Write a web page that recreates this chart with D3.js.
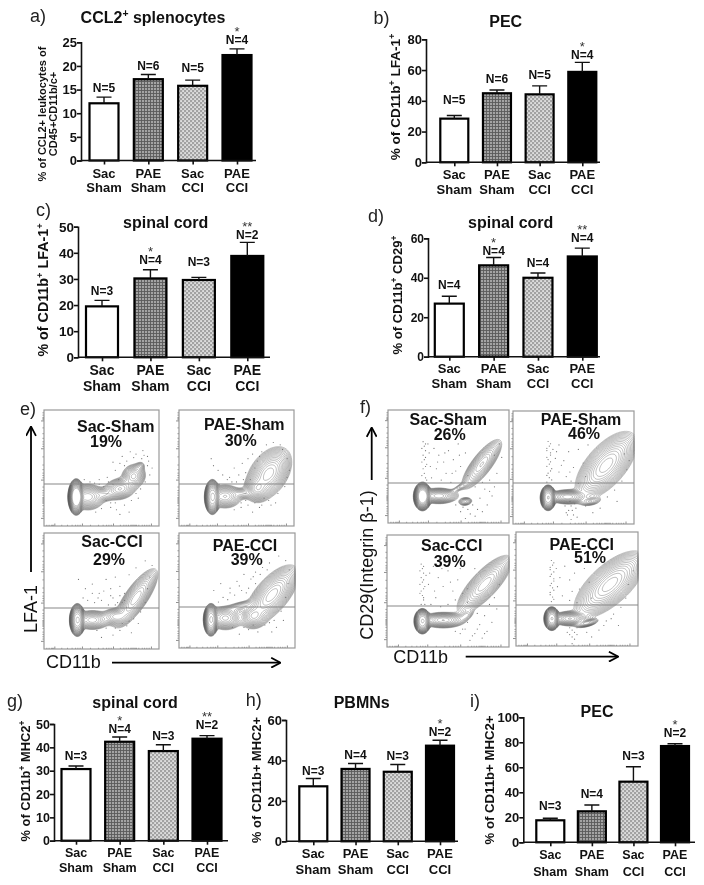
<!DOCTYPE html>
<html><head><meta charset="utf-8">
<script src="https://cdnjs.cloudflare.com/ajax/libs/d3/7.8.5/d3.min.js"></script>
<style>html,body{margin:0;padding:0;background:#fff}svg{display:block;filter:blur(.35px)}text{font-family:"Liberation Sans",Arial,sans-serif}</style>
</head><body><svg id="c" width="704" height="885"></svg>
<script>
// ---------- bar chart values ----------
const categoryTop = ["Sac","PAE","Sac","PAE"];
const categoryBottom = ["Sham","Sham","CCI","CCI"];
const aMeans=[12.1,17.2,15.8,22.3], aTops=[13.4,18.2,17.0,23.6], aN=[5,6,5,4], aStars=["","","","*"];
const bMeans=[28.4,44.9,44.2,58.8], bTops=[30.4,47.0,49.7,65.0], bN=[5,6,5,4], bStars=["","","","*"];
const cMeans=[19.5,30.2,29.6,38.8], cTops=[21.8,33.5,30.6,44.0], cN=[3,4,3,2], cStars=["","*","","**"];
const dMeans=[26.9,46.3,40.0,50.8], dTops=[30.6,50.3,42.4,55.0], dN=[4,4,4,4], dStars=["","*","","**"];
const gMeans=[30.7,42.4,38.4,43.7], gTops=[32.0,44.4,41.1,45.0], gN=[3,4,3,2], gStars=["","*","","**"];
const hMeans=[27.2,35.8,34.4,47.3], hTops=[31.1,38.5,38.0,50.0], hN=[3,4,3,2], hStars=["","","","*"];
const iMeans=[17.6,24.8,48.5,77.0], iTops=[19.2,29.9,60.5,78.9], iN=[3,4,3,2], iStars=["","","","*"];
const aTicks=[0,5,10,15,20,25], bTicks=[0,20,40,60,80], cTicks=[0,10,20,30,40,50], dTicks=[0,20,40,60], gTicks=[0,10,20,30,40,50], hTicks=[0,20,40,60], iTicks=[0,20,40,60,80,100];

// ---------- flow plot labels and shapes (percent of panel box) ----------
const flowNames=["Sac-Sham","PAE-Sham","Sac-CCI","PAE-CCI"];
const ePercents=["19%","30%","29%","39%"], fPercents=["26%","46%","39%","51%"];
// density lobes: centre x, centre y, spread along, spread across, angle, weight
const eBlobs=[
 [[28,75,3.6,8,0,1.5],[38,75,6.5,5,0,.35],[52,73,5,3,0,.1],[66,68,6.5,4.2,-12,.3],[78,57,5,4.6,-40,.26],[83,49,3,2.2,-40,.06]],
 [[29,75,3.6,8,0,.95],[40,74.5,6.5,4.6,0,.3],[55,72,5,2.4,0,.09],[68,68,4.6,4.6,-45,.3],[78,55,11,6.8,-55,.5]],
 [[29,75,3.6,7.5,0,.95],[42,75,7,3.8,0,.28],[62,72,5.4,3.5,0,.2],[80,56,13,4.2,-55,.42]],
 [[27.5,75.5,3.4,7.5,0,.95],[40,74,6.5,4.6,0,.32],[52,64,7,2.2,-15,.09],[64,72.6,5.4,4.6,0,.24],[80,54,13.5,6,-50,.5]]];
const fBlobs=[
 [[28.5,76.5,3.8,6.5,0,1.4],[42,76,7,3.1,0,.35],[64,81,3,1.9,-10,.12],[60,68,6,1.4,-30,.05],[77.5,48,12,3.8,-55,.3]],
 [[29,76.8,3.4,6,0,.95],[45,76,7,2.8,0,.35],[64,80,4.6,1.9,-10,.1],[77,48,15,7,-52,.5]],
 [[29,77,3.6,6,0,.95],[46,76,8,3.1,0,.36],[65,72,4,2.2,-40,.07],[80,44,14,4.8,-50,.42]],
 [[29.3,76,3.4,5.5,0,.95],[44,76,6.4,2.8,0,.36],[58,80,4.6,1.5,-15,.18],[77,46,16,7,-45,.5]]];
// stray single events
const eDots=[
 [[60,45],[68,40],[75,36],[85,42],[90,48],[92,56],[88,62],[70,48],[55,58],[48,60],[62,52],[72,44],[80,38],[86,35],[94,50],[58,84],[63,86],[70,82],[74,88],[66,90],[80,72],[84,68],[50,85],[45,88],[76,78],[40,62],[35,60],[90,40],[65,60],[52,66],[56,62],[60,64],[48,64],[44,63],[58,80],[54,78],[62,80],[82,76],[91,44],[87,39],[78,41],[66,46]],
 [[28,42],[30,48],[34,52],[38,56],[44,58],[48,50],[55,46],[60,42],[64,38],[68,44],[72,36],[76,30],[82,28],[90,34],[94,42],[96,52],[92,66],[86,72],[78,78],[70,84],[64,88],[60,82],[54,84],[48,86],[42,60],[52,56],[58,54],[66,50],[62,60],[74,76],[84,80],[35,64],[50,62],[56,60],[46,62],[54,80],[58,78],[66,80],[72,82],[80,82],[70,40],[88,30],[94,58]],
 [[30,40],[36,48],[42,44],[48,52],[54,40],[58,48],[62,38],[66,46],[70,52],[74,36],[80,30],[88,24],[94,28],[92,38],[90,48],[88,60],[84,68],[78,74],[72,80],[66,84],[60,88],[54,82],[50,90],[46,84],[38,58],[44,60],[50,58],[56,62],[60,56],[64,60],[68,60],[72,64],[82,78],[76,86],[42,52],[34,56],[58,54],[62,62],[66,54],[52,50],[47,56],[70,58],[74,76],[68,78],[62,82]],
 [[30,50],[36,44],[44,48],[50,42],[56,36],[62,40],[66,34],[72,30],[78,26],[86,20],[92,24],[95,32],[94,44],[92,56],[88,68],[82,76],[74,80],[68,86],[60,84],[52,88],[46,82],[38,56],[42,58],[48,54],[54,50],[60,48],[66,44],[80,86],[90,76],[34,60],[44,52],[52,46],[58,52],[64,38],[70,36],[76,32],[84,82],[78,78],[56,82],[64,80]]];
const fDots=[
 [[29,28],[30,32],[31,36],[29,40],[30,44],[32,48],[29,52],[30,56],[31,60],[29,64],[33,30],[34,38],[38,34],[42,40],[46,46],[50,36],[54,44],[58,30],[60,50],[64,38],[66,58],[48,56],[40,52],[36,60],[44,62],[52,64],[56,54],[88,40],[90,56],[84,62],[80,70],[76,78],[82,84],[74,88],[68,92],[64,96],[70,84],[60,90],[56,84],[72,68],[86,76],[92,30],[94,42],[31,30],[28,34],[31,42],[28,46],[31,50],[28,58],[32,62],[35,50],[41,46],[47,38],[53,56],[59,40],[78,90],[72,94],[66,88],[62,86],[84,72],[78,64],[88,68]],
 [[29,27],[30,31],[28,35],[31,39],[29,43],[30,47],[32,51],[29,55],[30,59],[28,63],[33,34],[35,42],[38,30],[42,44],[46,36],[50,50],[54,34],[58,46],[62,30],[60,58],[44,58],[38,54],[48,62],[54,64],[92,38],[94,52],[90,62],[84,70],[78,76],[48,84],[46,88],[50,92],[48,96],[44,90],[52,86],[72,86],[66,90],[60,84],[96,44],[86,80],[31,29],[28,33],[31,37],[28,41],[31,45],[28,49],[31,53],[28,57],[32,61],[36,36],[40,48],[47,54],[45,92],[49,88],[51,82],[47,80],[43,84],[53,94]],
 [[28,26],[29,30],[30,34],[28,38],[29,42],[31,46],[28,50],[29,54],[30,58],[28,62],[32,36],[34,44],[38,28],[42,38],[46,46],[50,32],[54,50],[58,40],[62,52],[66,60],[40,56],[36,62],[44,64],[50,62],[56,58],[72,30],[88,56],[90,66],[84,62],[80,72],[76,80],[82,86],[72,88],[68,94],[64,84],[78,92],[86,78],[60,88],[56,86],[74,70],[92,44],[30,28],[27,32],[30,40],[27,44],[30,48],[27,52],[30,56],[31,62],[35,34],[39,50],[45,30],[52,42],[60,30],[66,48],[70,90],[74,84],[80,88],[66,78],[62,84]],
 [[29,25],[30,29],[28,33],[29,37],[31,41],[29,45],[30,49],[28,53],[30,57],[29,61],[33,32],[36,40],[40,30],[44,42],[48,36],[52,50],[56,32],[60,44],[62,58],[38,56],[44,60],[50,62],[90,58],[92,46],[86,66],[80,72],[74,78],[46,86],[44,90],[48,94],[46,98],[42,88],[50,84],[68,86],[62,92],[96,34],[84,82],[58,88],[31,27],[28,31],[31,35],[28,39],[31,43],[28,47],[31,51],[28,55],[31,59],[34,48],[46,52],[46,92],[48,88],[44,84],[50,90],[72,82],[78,76]]];
const flowMajor=[9,33,60,93];
const flowMinor=[2,4,6,7,8,15,20,24,27,29,31,40,47,51,54,56,58,66,69,71,73,75,76,77,78,79,80,82,85,87,89,91];

// ---------- layout (pixels) ----------
const barPanels=[
 {letter:"a)",lx:30,ly:22,title:"CCL2^+^ splenocytes",tx:153,ty:22.5,ylabels:[["% of CCL2+ leukocytes of",46],["CD45+CD11b/c+",57]],yc:114,yf:11,means:aMeans,tops:aTops,n:aN,stars:aStars,ticks:aTicks,x0:81,xEnd:256,y0:160.5,y1:42.3,max:25,c0:104,c3:237,w:29,cy:[177.5,191.5],cf:13,tf:13,gaps:[5,4,8,5]},
 {letter:"b)",lx:373.5,ly:24,title:"PEC",tx:505.7,ty:26.7,ylabels:[["% of CD11b^+^ LFA-1^+^",400]],yc:97,yf:13.6,means:bMeans,tops:bTops,n:bN,stars:bStars,ticks:bTicks,x0:426,xEnd:600,y0:162.3,y1:39.3,max:80,c0:454.3,c3:582.3,w:28,cy:[179.3,194.3],cf:13,tf:13,gaps:[12,7,7,3]},
 {letter:"c)",lx:36,ly:215.7,title:"spinal cord",tx:165.7,ty:228,ylabels:[["% of CD11b^+^ LFA-1^+^",48]],yc:290,yf:14.3,means:cMeans,tops:cTops,n:cN,stars:cStars,ticks:cTicks,x0:78,xEnd:270,y0:357.3,y1:226.7,max:50,c0:102,c3:247.3,w:32,cy:[375,391],cf:14,tf:13.5,gaps:[5,6,11,3]},
 {letter:"d)",lx:368,ly:222,title:"spinal cord",tx:510.7,ty:228,ylabels:[["% of CD11b^+^ CD29^+^",402]],yc:295,yf:13.1,means:dMeans,tops:dTops,n:dN,stars:dStars,ticks:dTicks,x0:428,xEnd:600,y0:356.7,y1:238.3,max:60,c0:449.3,c3:582.3,w:29,cy:[373.3,388.3],cf:13,tf:12,gaps:[7,2,6,6]},
 {letter:"g)",lx:7,ly:707,title:"spinal cord",tx:135,ty:707.7,ylabels:[["% of CD11b^+^ MHC2^+^",30]],yc:781,yf:12.9,means:gMeans,tops:gTops,n:gN,stars:gStars,ticks:gTicks,x0:54,xEnd:228,y0:840.7,y1:724,max:50,c0:76,c3:207,w:29,cy:[857.3,871.7],cf:12.5,tf:12.5,gaps:[6,4,5,7]},
 {letter:"h)",lx:245.7,ly:705.7,title:"PBMNs",tx:361.7,ty:708,ylabels:[["% of CD11b+ MHC2+",260.7]],yc:780,yf:12.9,means:hMeans,tops:hTops,n:hN,stars:hStars,ticks:hTicks,x0:286,xEnd:458,y0:841.3,y1:720,max:60,c0:313.3,c3:440,w:28,cy:[857.7,874],cf:13,tf:13,gaps:[3,4,4,4]},
 {letter:"i)",lx:470,ly:706.7,title:"PEC",tx:597,ty:716.7,ylabels:[["% of CD11b+ MHC2+",494]],yc:780,yf:13.2,means:iMeans,tops:iTops,n:iN,stars:iStars,ticks:iTicks,x0:523.3,xEnd:695,y0:842.3,y1:717.3,max:100,c0:550.3,c3:675,w:28,cy:[858.7,875.7],cf:12.5,tf:13,gaps:[8,7,7,7]}];

const flowBoxes=[
 {names:flowNames,pct:ePercents,blobs:eBlobs,dots:eDots,box:[[44,159,410,526],[179,294,410,526],[44,159,533,649],[179,295,533,648]],gate:[484,484,608,607],
  nameAt:[[115.7,431.7],[244.3,430],[112,547.3],[245,550.7]],pctAt:[[106,446.7],[240.7,446],[109,565],[246.7,565]]},
 {names:flowNames,pct:fPercents,blobs:fBlobs,dots:fDots,box:[[388,509,410,523],[513,634,411,524],[387,509,535,647],[516,638,532,646]],gate:[483,483,606,605],
  nameAt:[[448.3,425],[581,425],[451.7,551],[581.7,550]],pctAt:[[449.7,440],[584,439],[449.7,566.7],[590,563.3]]}];

const svg=d3.select("#c");
const defs=svg.append("defs");
// fills
function pat(id,size,bg,draw){const p=defs.append("pattern").attr("id",id).attr("width",size).attr("height",size).attr("patternUnits","userSpaceOnUse");
 p.append("rect").attr("width",size).attr("height",size).attr("fill",bg);draw(p);}
pat("grid",3,"#a4a4a4",p=>{p.append("path").attr("d","M0 .5H3M.5 0V3").attr("stroke","#5a5a5a").attr("stroke-width",.9).attr("fill","none");});
pat("diag",4,"#a2a2a2",p=>{p.append("rect").attr("x",.3).attr("y",.3).attr("width",1.5).attr("height",1.5).attr("fill","#fff");p.append("rect").attr("x",2.3).attr("y",2.3).attr("width",1.5).attr("height",1.5).attr("fill","#fff");});
const arrowDef=defs.append("marker").attr("id","ah").attr("viewBox","0 0 10 10").attr("refX",9).attr("refY",5).attr("markerWidth",11).attr("markerHeight",11).attr("markerUnits","userSpaceOnUse").attr("orient","auto");
arrowDef.append("path").attr("d","M1 0.5L9.5 5L1 9.5").attr("fill","none").attr("stroke","#000").attr("stroke-width",1.6);
defs.append("filter").attr("id","soft").attr("x","-5%").attr("y","-5%").attr("width","110%").attr("height","110%").append("feGaussianBlur").attr("stdDeviation",.3);
const fills=["#fff","url(#grid)","url(#diag)","#000"];

function rich(sel,str){ // ^...^ marks superscript
 const parts=str.split("^");let pending=0;
 parts.forEach((s,i)=>{if(!s)return;const t=sel.append("tspan").text(s);
  if(i%2){t.attr("font-size","65%").attr("dy","-0.55em");pending=1;}
  else if(pending){t.attr("dy","0.36em");pending=0;}});
}
function label(g,str,x,y,size,weight,anchor){const t=g.append("text").attr("x",x).attr("y",y).attr("font-size",size).attr("font-weight",weight).attr("text-anchor",anchor||"middle").attr("fill","#111");rich(t,str);return t;}

barPanels.forEach(P=>{
 const g=svg.append("g");
 const y=d3.scaleLinear().domain([0,P.max]).range([P.y0,P.y1]);
 const idx=d3.range(4);
 const x=d3.scalePoint().domain(idx).range([P.c0,P.c3]);
 label(g,P.letter,P.lx,P.ly,18,"normal","start").attr("fill","#222");
 label(g,P.title,P.tx,P.ty,16,"bold");
 P.ylabels.forEach(([s,bx])=>{label(g,s,0,0,P.yf,"bold").attr("transform",`translate(${bx},${P.yc}) rotate(-90)`);});
 // bars
 g.selectAll("rect.b").data(P.means).join("rect").attr("class","b")
  .attr("x",(d,i)=>x(i)-P.w/2).attr("width",P.w).attr("y",d=>y(d)).attr("height",d=>P.y0-y(d))
  .attr("fill",(d,i)=>fills[i]).attr("stroke","#000").attr("stroke-width",2.2);
 // error bars
 g.selectAll("path.e").data(P.tops).join("path").attr("class","e")
  .attr("d",(d,i)=>`M${x(i)},${y(P.means[i])}V${y(d)}M${x(i)-7.5},${y(d)}H${x(i)+7.5}`)
  .attr("stroke","#111").attr("stroke-width",1.4).attr("fill","none");
 // axes
 const ya=g.append("g").attr("transform",`translate(${P.x0},0)`).call(d3.axisLeft(y).tickValues(P.ticks).tickSize(4).tickPadding(0));
 ya.selectAll(".tick text").attr("font-size",P.tf).attr("font-weight","bold").attr("font-family",null).attr("fill","#111");
 ya.selectAll("line,path").attr("stroke","#111").attr("stroke-width",1.6);
 const xa=g.append("g").attr("transform",`translate(0,${P.y0})`).call(d3.axisBottom(x).tickSize(4).tickFormat(""));
 xa.select("path").attr("d",`M${P.x0},0H${P.xEnd}`);
 xa.selectAll("line,path").attr("stroke","#111").attr("stroke-width",1.6);
 // categories
 idx.forEach(i=>{label(g,categoryTop[i],x(i),P.cy[0],P.cf,"bold");label(g,categoryBottom[i],x(i),P.cy[1],P.cf,"bold");});
 // N and stars
 idx.forEach(i=>{const by=y(P.tops[i])-P.gaps[i];
  label(g,"N="+P.n[i],x(i),by,12,"bold");
  if(P.stars[i])label(g,P.stars[i],x(i),by-8,13,"normal").attr("fill","#333");});
});

// flow plots
const N=120, thresholdsList=d3.range(1,21).map(k=>0.018*Math.pow(1.22,k));
function densityGrid(blobs){
 const v=new Float64Array(N*N);
 for(let j=0;j<N;j++)for(let i=0;i<N;i++){
  const px=(i+.5)/N*100,py=(j+.5)/N*100;let s=0;
  for(const [cx,cy,sa,sb,ang,w] of blobs){const a=ang*Math.PI/180,dx=px-cx,dy=py-cy,
    u=(dx*Math.cos(a)+dy*Math.sin(a))/sa,t=(-dx*Math.sin(a)+dy*Math.cos(a))/sb,r=u*u+t*t;
   s+=w*Math.exp(-Math.pow(r,w>=.9?1.5:1)*.55);}
  v[j*N+i]=s;}
 return v;
}
flowBoxes.forEach(F=>{
 F.box.forEach((b,k)=>{
  const g=svg.append("g");
  const sx=d3.scaleLinear().domain([0,100]).range([b[0],b[1]]);
  const sy=d3.scaleLinear().domain([0,100]).range([b[2],b[3]]);
  const inner=g.append("g").attr("filter","url(#soft)");
  const gx=d3.scaleLinear().domain([0,N]).range(sx.range());
  const gy=d3.scaleLinear().domain([0,N]).range(sy.range());
  const path=d3.geoPath(d3.geoTransform({point(px,py){this.stream.point(gx(px),gy(py));}}));
  const cs=d3.contours().size([N,N]).thresholds(thresholdsList)(densityGrid(F.blobs[k]));
  inner.selectAll("path").data(cs).join("path").attr("d",path).attr("fill","none").attr("stroke","#444").attr("stroke-width",.45).attr("stroke-opacity",.75);
  inner.selectAll("circle").data(F.dots[k]).join("circle").attr("cx",d=>sx(d[0])).attr("cy",d=>sy(d[1])).attr("r",.6).attr("fill","#777");
  // axis ticks
  const left=g.append("g").attr("transform",`translate(${b[0]},0)`).call(d3.axisLeft(sy).tickValues(flowMajor).tickSize(3).tickFormat(""));
  const leftMinor=g.append("g").attr("transform",`translate(${b[0]},0)`).call(d3.axisLeft(sy).tickValues(flowMinor).tickSize(1.5).tickFormat(""));
  const bot=g.append("g").attr("transform",`translate(0,${b[3]})`).call(d3.axisTop(sx).tickValues(flowMajor).tickSize(2.5).tickFormat(""));
  const botMinor=g.append("g").attr("transform",`translate(0,${b[3]})`).call(d3.axisTop(sx).tickValues(flowMinor).tickSize(1.2).tickFormat(""));
  [left,leftMinor,bot,botMinor].forEach(a=>{a.select("path").remove();a.selectAll("line").attr("stroke","#444").attr("stroke-width",.6);});
  // box + gate
  g.append("rect").attr("x",b[0]).attr("y",b[2]).attr("width",b[1]-b[0]).attr("height",b[3]-b[2]).attr("fill","none").attr("stroke","#999").attr("stroke-width",1.2);
  g.append("line").attr("x1",b[0]).attr("x2",b[1]).attr("y1",F.gate[k]).attr("y2",F.gate[k]).attr("stroke","#888").attr("stroke-width",1.2);
  label(g,F.names[k],F.nameAt[k][0],F.nameAt[k][1],16,"bold");
  label(g,F.pct[k],F.pctAt[k][0],F.pctAt[k][1],16,"bold");
 });
});
// flow axis titles and arrows
const ann=svg.append("g");
function arrow(x1,y1,x2,y2){ann.append("line").attr("x1",x1).attr("y1",y1).attr("x2",x2).attr("y2",y2).attr("stroke","#000").attr("stroke-width",1.8).attr("marker-end","url(#ah)");}
label(ann,"e)",20,415,18,"normal","start").attr("fill","#222");
label(ann,"f)",360,413,18,"normal","start").attr("fill","#222");
label(ann,"LFA-1",0,0,18,"normal").attr("transform","translate(36.7,609) rotate(-90)");
label(ann,"CD11b",46,668,18,"normal","start");
arrow(31,572,31,427);arrow(112,662.7,280,662.7);
label(ann,"CD29(Integrin β-1)",0,0,18,"normal").attr("transform","translate(373,565) rotate(-90)");
label(ann,"CD11b",393.3,663,18,"normal","start");
arrow(371.7,480,371.7,428);arrow(465.7,656.7,617.7,656.7);
</script></body></html>
